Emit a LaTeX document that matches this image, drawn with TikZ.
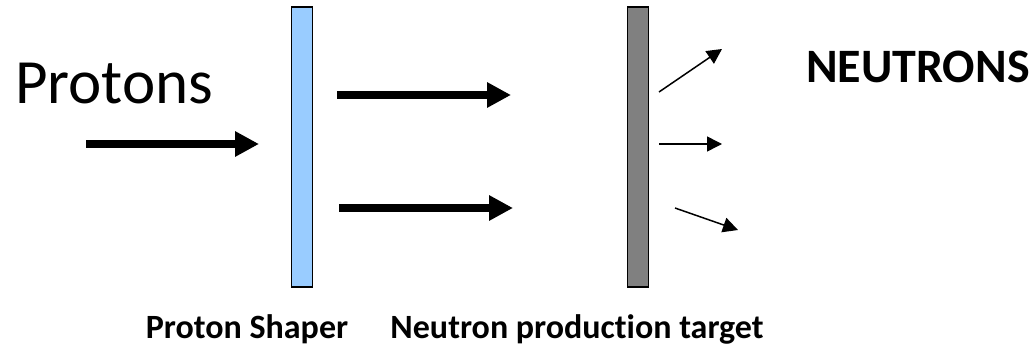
\documentclass[tikz,border=0pt]{standalone}
\usepackage{fontspec}
\setmainfont{Carlito}[Ligatures=NoCommon]
\usetikzlibrary{arrows.meta}
\definecolor{shaperblue}{HTML}{99CCFF}
\definecolor{targetgray}{HTML}{808080}
\tikzset{
  bar/.style={draw=black, line width=1.5pt, inner sep=0pt, minimum width=21pt, minimum height=280pt},
  bigarrow/.style={line width=8pt, -{Triangle[length=24pt,width=24pt]}},
  thinarrow/.style={line width=1.5pt, -{Triangle[length=15pt,width=15pt]}},
  lbl/.style={inner sep=0pt, font=\fontsize{34}{37}\selectfont\bfseries}
}
\begin{document}
\begin{tikzpicture}[x=1pt,y=-1pt]
\useasboundingbox (0,0) rectangle (1032,350);
% bars
\node[bar, fill=shaperblue] (shaper) at (302,147) {};
\node[bar, fill=targetgray] (target) at (638,147) {};
% texts
\node[anchor=base west, inner sep=0pt, font=\fontsize{63}{66}\selectfont] (protons) at (15,103) {Protons};
\node[anchor=base west, inner sep=0pt, font=\fontsize{48}{51}\selectfont\bfseries] (neutrons) at (806,83) {NEUTRONS};
\node[lbl, anchor=base] (shaperlbl) at (247,338) {Proton Shaper};
\node[lbl, anchor=base] (targetlbl) at (577,338) {Neutron production target};
% coordinates
\coordinate (p0) at (86,144);
\coordinate (p1) at (259,144);
\coordinate (u0) at (337,95);
\coordinate (u1) at (511,95);
\coordinate (l0) at (339,208);
\coordinate (l1) at (513,208);
\coordinate (a0) at (659,92);
\coordinate (a1) at (722,49);
\coordinate (b0) at (659,144);
\coordinate (b1) at (722,144);
\coordinate (c0) at (675,208);
\coordinate (c1) at (738,230);
% arrows
\draw[bigarrow] (p0) -- (p1);
\draw[bigarrow] (u0) -- (u1);
\draw[bigarrow] (l0) -- (l1);
\draw[thinarrow] (a0) -- (a1);
\draw[thinarrow] (b0) -- (b1);
\draw[thinarrow] (c0) -- (c1);
\end{tikzpicture}
\end{document}
